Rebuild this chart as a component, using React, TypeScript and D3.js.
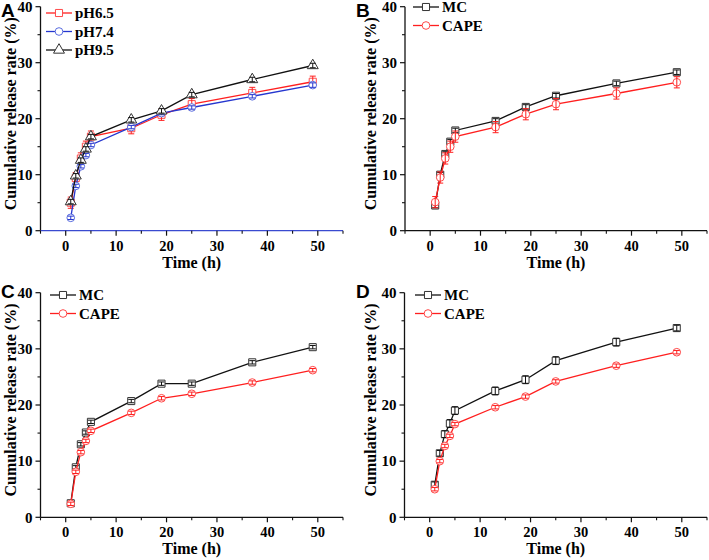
import React from 'react';
import * as d3 from 'd3';

// sampling times (h)
const times = [1, 2, 3, 4, 5, 13, 19, 25, 37, 49];

// panel A: release at different pH
const aPH65 = [5.0, 9.4, 12.9, 15.0, 16.8, 18.3, 20.7, 22.6, 24.6, 26.6];
const aPH65Err = [1.0, 1.0, 1.0, 1.0, 1.0, 1.0, 1.0, 1.0, 1.0, 1.0];
const aPH74 = [2.3, 8.0, 11.5, 13.5, 15.3, 18.5, 21.0, 22.0, 24.0, 26.0];
const aPH74Err = [0.3, 0.3, 0.3, 0.3, 0.3, 0.3, 0.3, 0.3, 0.3, 0.4];
const aPH95 = [5.2, 9.8, 12.6, 14.6, 16.8, 19.8, 21.4, 24.3, 27.0, 29.5];
const aPH95Err = [0.4, 0.4, 0.4, 0.4, 0.4, 0.4, 0.4, 0.4, 0.4, 0.4];

// panel B
const bMC = [4.5, 10.0, 13.7, 15.9, 17.9, 19.6, 22.1, 24.1, 26.3, 28.3];
const bMCErr = [0.4, 0.4, 0.4, 0.4, 0.4, 0.4, 0.4, 0.4, 0.4, 0.4];
const bCAPE = [5.1, 9.5, 12.9, 15.0, 16.8, 18.5, 20.8, 22.6, 24.5, 26.5];
const bCAPEErr = [1.0, 1.0, 1.0, 1.0, 1.0, 1.0, 1.0, 1.0, 1.0, 1.0];

// panel C
const cMC = [2.5, 8.9, 13.0, 15.1, 17.0, 20.7, 23.8, 23.8, 27.6, 30.3];
const cMCErr = [0.3, 0.3, 0.3, 0.3, 0.3, 0.3, 0.3, 0.3, 0.3, 0.3];
const cCAPE = [2.4, 8.1, 11.6, 13.6, 15.4, 18.6, 21.2, 22.0, 24.0, 26.2];
const cCAPEErr = [0.3, 0.3, 0.3, 0.3, 0.3, 0.3, 0.3, 0.3, 0.3, 0.3];

// panel D
const dMC = [5.8, 11.4, 14.8, 16.7, 19.0, 22.5, 24.5, 27.9, 31.2, 33.7];
const dMCErr = [0.5, 0.5, 0.6, 0.7, 0.7, 0.7, 0.7, 0.7, 0.7, 0.5];
const dCAPE = [5.0, 10.0, 12.7, 14.5, 16.6, 19.6, 21.5, 24.2, 27.0, 29.4];
const dCAPEErr = [0.3, 0.3, 0.3, 0.3, 0.3, 0.3, 0.3, 0.3, 0.3, 0.3];

const xMajor = [0, 10, 20, 30, 40, 50];
const xMinor = [-5, 5, 15, 25, 35, 45, 55];
const yMajor = [0, 10, 20, 30, 40];
const yMinor = [5, 15, 25, 35];

const RED = '#ff1f1f';
const RED_M = '#ff4a4a';
const BLUE = '#2536cf';
const BLUE_M = '#5b6ee0';
const BLACK = '#111111';
const BLACK_M = '#333333';

interface Series {
  name: string;
  values: number[];
  errors: number[];
  line: string;
  marker: string;
  shape: d3.SymbolType;
}

interface Panel {
  letter: string;
  letterX: number;
  letterY: number;
  titleX: number;
  left: number;
  right: number;
  top: number;
  bottom: number;
  axisColor: string;
  legendX: number;
  legendY: number;
  series: Series[];
}

const serif = '"Liberation Serif", "Times New Roman", serif';
const sans = '"Liberation Sans", Arial, sans-serif';

const mcCape = (mc: number[], mcErr: number[], cape: number[], capeErr: number[]): Series[] => [
  { name: 'MC', values: mc, errors: mcErr, line: BLACK, marker: BLACK_M, shape: d3.symbolSquare },
  { name: 'CAPE', values: cape, errors: capeErr, line: RED, marker: RED_M, shape: d3.symbolCircle },
];

const panels: Panel[] = [
  {
    letter: 'A', letterX: 1, letterY: 17, titleX: 16,
    left: 40.5, right: 343, top: 6.7, bottom: 230.7, axisColor: '#3a4ad0',
    legendX: 46, legendY: 13,
    series: [
      { name: 'pH6.5', values: aPH65, errors: aPH65Err, line: RED, marker: RED_M, shape: d3.symbolSquare },
      { name: 'pH7.4', values: aPH74, errors: aPH74Err, line: BLUE, marker: BLUE_M, shape: d3.symbolCircle },
      { name: 'pH9.5', values: aPH95, errors: aPH95Err, line: BLACK, marker: BLACK_M, shape: d3.symbolTriangle },
    ],
  },
  {
    letter: 'B', letterX: 356, letterY: 17, titleX: 376,
    left: 405, right: 707, top: 6.7, bottom: 230.7, axisColor: BLACK,
    legendX: 413, legendY: 7,
    series: mcCape(bMC, bMCErr, bCAPE, bCAPEErr),
  },
  {
    letter: 'C', letterX: 1, letterY: 298, titleX: 16,
    left: 40.5, right: 343, top: 292.7, bottom: 517.3, axisColor: BLACK,
    legendX: 50, legendY: 295,
    series: mcCape(cMC, cMCErr, cCAPE, cCAPEErr),
  },
  {
    letter: 'D', letterX: 356, letterY: 298, titleX: 376,
    left: 404.5, right: 707, top: 292.7, bottom: 517.3, axisColor: BLACK,
    legendX: 415, legendY: 295,
    series: mcCape(dMC, dMCErr, dCAPE, dCAPEErr),
  },
];

const symbolPath = (shape: d3.SymbolType) =>
  d3.symbol().type(shape).size(shape === d3.symbolTriangle ? 52 : shape === d3.symbolCircle ? 46 : 50)() as string;

const ReleasePanel: React.FC<{ p: Panel }> = ({ p }) => {
  const x = d3.scaleLinear().domain([-5, 55]).range([p.left, p.right]);
  const y = d3.scaleLinear().domain([0, 40]).range([p.bottom, p.top]);
  const line = d3.line<number>().x((_, i) => x(times[i])).y(d => y(d));
  const midX = (p.left + p.right) / 2;
  const midY = (p.top + p.bottom) / 2 - 5;

  return (
    <g>
      <text x={p.letterX} y={p.letterY} fontFamily={sans} fontWeight="bold" fontSize={19} fill="#000">
        {p.letter}
      </text>

      {/* data */}
      {p.series.map(s => (
        <g key={s.name}>
          <path d={line(s.values) as string} fill="none" stroke={s.line} strokeWidth={1.3} />
          {s.values.map((v, i) => (
            <path key={i} d={symbolPath(s.shape)} transform={`translate(${x(times[i])},${y(v)})`}
              fill="#fff" stroke={s.marker} strokeWidth={1} />
          ))}
          {s.values.map((v, i) => {
            const cx = x(times[i]);
            const y1 = y(v + s.errors[i]);
            const y2 = y(v - s.errors[i]);
            return (
              <g key={'e' + i} stroke={s.line} strokeWidth={1}>
                <line x1={cx} x2={cx} y1={y1} y2={y2} />
                <line x1={cx - 3} x2={cx + 3} y1={y1} y2={y1} />
                <line x1={cx - 3} x2={cx + 3} y1={y2} y2={y2} />
              </g>
            );
          })}
        </g>
      ))}

      {/* axes */}
      <line x1={p.left} x2={p.left} y1={p.top} y2={p.bottom} stroke={BLACK} strokeWidth={1.3} />
      <line x1={p.left} x2={p.right} y1={p.bottom} y2={p.bottom} stroke={p.axisColor} strokeWidth={1.3} />
      {yMajor.map(t => (
        <g key={'ym' + t}>
          <line x1={p.left - 5} x2={p.left} y1={y(t)} y2={y(t)} stroke={BLACK} strokeWidth={1.2} />
          <text x={p.left - 8} y={y(t)} dy="0.35em" textAnchor="end" fontFamily={serif} fontWeight="bold" fontSize={15}>
            {t}
          </text>
        </g>
      ))}
      {yMinor.map(t => (
        <line key={'yn' + t} x1={p.left - 3} x2={p.left} y1={y(t)} y2={y(t)} stroke={BLACK} strokeWidth={1.1} />
      ))}
      {xMajor.map(t => (
        <g key={'xm' + t}>
          <line x1={x(t)} x2={x(t)} y1={p.bottom} y2={p.bottom + 5} stroke={BLACK} strokeWidth={1.2} />
          <text x={x(t)} y={p.bottom + 20} textAnchor="middle" fontFamily={serif} fontWeight="bold" fontSize={14.5}>
            {t}
          </text>
        </g>
      ))}
      {xMinor.map(t => (
        <line key={'xn' + t} x1={x(t)} x2={x(t)} y1={p.bottom} y2={p.bottom + 3} stroke={BLACK} strokeWidth={1.1} />
      ))}
      <text x={midX} y={p.bottom + 37} textAnchor="middle" fontFamily={serif} fontWeight="bold" fontSize={16}>
        Time (h)
      </text>
      <text transform={`translate(${p.titleX},${midY}) rotate(-90)`} textAnchor="middle"
        fontFamily={serif} fontWeight="bold" fontSize={16}>
        Cumulative release rate (%)
      </text>

      {/* legend */}
      {p.series.map((s, i) => {
        const ly = p.legendY + i * 18.5;
        return (
          <g key={'l' + s.name}>
            <line x1={p.legendX} x2={p.legendX + 26} y1={ly} y2={ly} stroke={s.line} strokeWidth={1.3} />
            <path d={symbolPath(s.shape)} transform={`translate(${p.legendX + 13},${ly})`}
              fill="#fff" stroke={s.marker} strokeWidth={1} />
            <text x={p.legendX + 29} y={ly} dy="0.35em" fontFamily={serif} fontWeight="bold" fontSize={15}>
              {s.name}
            </text>
          </g>
        );
      })}
    </g>
  );
};

export default function App() {
  return (
    <svg width={709} height={560} style={{ position: 'absolute', left: 0, top: 0, background: '#fff' }}>
      {panels.map(p => (
        <ReleasePanel key={p.letter} p={p} />
      ))}
    </svg>
  );
}
